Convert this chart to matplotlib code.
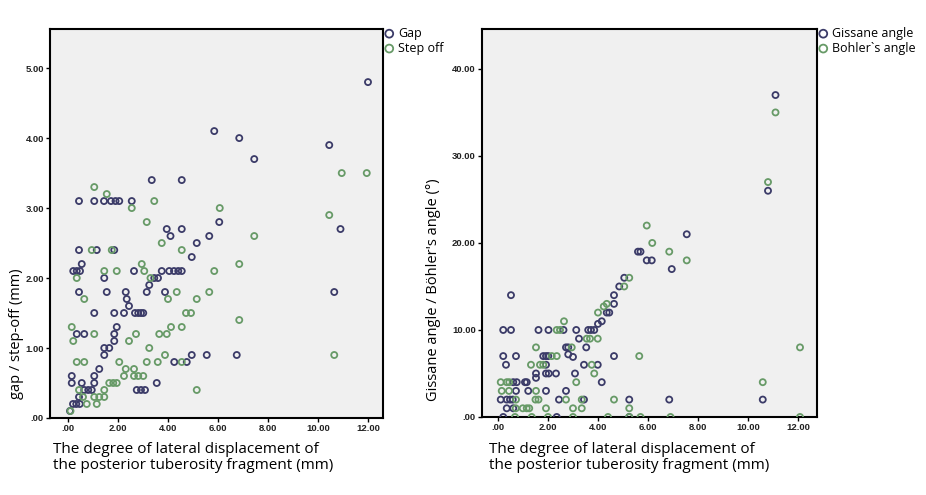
import matplotlib
matplotlib.use('Agg')
import matplotlib.pyplot as plt
import numpy as np

# left panel: gap / step-off vs lateral displacement
gap_x = [12.0, 5.85, 6.85, 7.45, 10.45, 10.9, 10.65, 3.35, 4.55,
         0.44, 1.05, 1.44, 1.72, 1.9, 2.05, 2.55,
         3.95, 4.1, 4.55, 5.15, 5.65, 6.05, 4.95,
         0.44, 1.15, 1.85, 0.55,
         0.21, 0.35, 0.48, 2.64, 3.75, 4.05, 4.24, 4.41, 4.55,
         1.45, 3.45, 3.6, 3.25,
         0.44, 1.55, 2.31, 3.15, 3.88, 2.35, 2.44,
         1.05, 1.85, 2.24, 2.68, 2.81, 2.92, 3.01,
         1.95, 0.35, 0.65, 1.85, 1.85, 1.45, 1.65,
         1.45, 4.95, 5.55, 6.75, 4.25, 4.75, 1.25,
         0.15, 1.05, 0.15, 0.55, 1.05, 3.55,
         0.65, 0.81, 0.95, 2.75, 2.92, 3.08, 0.44,
         0.2, 0.33, 0.47, 0.08]
gap_y = [4.8, 4.1, 4.0, 3.7, 3.9, 2.7, 1.8, 3.4, 3.4,
         3.1, 3.1, 3.1, 3.1, 3.1, 3.1, 3.1,
         2.7, 2.6, 2.7, 2.5, 2.6, 2.8, 2.3,
         2.4, 2.4, 2.4, 2.2,
         2.1, 2.1, 2.1, 2.1, 2.1, 2.1, 2.1, 2.1, 2.1,
         2.0, 2.0, 2.0, 1.9,
         1.8, 1.8, 1.8, 1.8, 1.8, 1.7, 1.6,
         1.5, 1.5, 1.5, 1.5, 1.5, 1.5, 1.5,
         1.3, 1.2, 1.2, 1.2, 1.1, 1.0, 1.0,
         0.9, 0.9, 0.9, 0.9, 0.8, 0.8, 0.7,
         0.6, 0.6, 0.5, 0.5, 0.5, 0.5,
         0.4, 0.4, 0.4, 0.4, 0.4, 0.4, 0.3,
         0.2, 0.2, 0.2, 0.1]

step_x = [11.95, 10.95, 10.45, 10.65, 7.45, 6.07, 6.85, 6.85,
          1.05, 1.55, 2.55, 3.45, 3.15, 3.75, 4.55,
          0.95, 1.75, 2.95, 1.45, 1.95, 3.05, 5.85, 0.35, 3.3,
          4.35, 5.65, 0.65, 4.0, 5.15, 4.72, 4.92,
          0.15, 4.12, 4.55, 1.05, 2.72, 3.65, 3.95, 0.21, 2.44,
          3.25, 3.88, 0.35, 0.65, 2.05, 3.15, 3.59, 4.55,
          2.31, 2.64, 2.24, 2.64, 2.81, 3.01, 1.65, 1.81, 1.95,
          0.44, 1.45, 5.15, 0.6, 1.05, 1.25, 1.45, 0.75, 1.15, 0.1]
step_y = [3.5, 3.5, 2.9, 0.9, 2.6, 3.0, 2.2, 1.4,
          3.3, 3.2, 3.0, 3.1, 2.8, 2.5, 2.4,
          2.4, 2.4, 2.2, 2.1, 2.1, 2.1, 2.1, 2.0, 2.0,
          1.8, 1.8, 1.7, 1.7, 1.7, 1.5, 1.5,
          1.3, 1.3, 1.3, 1.2, 1.2, 1.2, 1.2, 1.1, 1.1,
          1.0, 0.9, 0.8, 0.8, 0.8, 0.8, 0.8, 0.8,
          0.7, 0.7, 0.6, 0.6, 0.6, 0.6, 0.5, 0.5, 0.5,
          0.4, 0.4, 0.4, 0.3, 0.3, 0.3, 0.3, 0.2, 0.2, 0.1]

# right panel: Gissane angle / Bohler's angle vs lateral displacement
gis_x = [11.1, 10.8, 7.55, 5.6, 5.7, 5.95, 6.15, 6.95, 5.05, 4.85, 4.64, 0.52,
         4.64, 4.35, 4.45, 4.15, 4.0,
         0.21, 0.52, 1.62, 2.02, 2.62, 3.13, 3.61, 3.72, 3.85,
         3.24, 2.72, 2.81, 3.53, 2.81, 3.0,
         0.21, 0.72, 1.81, 1.92, 2.01, 4.64,
         0.32, 1.92, 3.44, 3.99,
         1.52, 1.92, 2.03, 2.32, 3.08, 1.52,
         0.61, 0.75, 1.08, 1.15, 4.15,
         0.72, 1.21, 1.92, 2.72,
         0.11, 0.35, 0.48, 0.59, 2.44, 3.44, 5.25, 6.85, 10.59,
         0.35, 0.61, 0.21, 2.35, 5.25]
gis_y = [37, 26, 21, 19, 19, 18, 18, 17, 16, 15, 14, 14,
         13, 12, 12, 11, 10.7,
         10, 10, 10, 10, 10, 10, 10, 10, 10,
         9, 8, 8, 8, 7.2, 6.9,
         7, 7, 7, 7, 7, 7,
         6, 6, 6, 6,
         5, 5, 5, 5, 5, 4.5,
         4, 4, 4, 4, 4,
         3, 3, 3, 3,
         2, 2, 2, 2, 2, 2, 2, 2, 2,
         1, 1, 0, 0, 0]

boh_x = [11.1, 10.8, 5.95, 6.17, 6.85, 7.55, 5.25, 5.05, 4.35, 4.23, 4.0, 2.64,
         2.35, 2.48, 3.55, 3.68, 3.99, 1.52, 2.95, 12.08,
         2.15, 2.35, 5.65, 1.32, 1.68, 1.81, 3.75, 3.85,
         0.11, 0.35, 0.45, 3.13, 10.59, 0.15, 0.44, 1.52,
         0.72, 1.5, 1.62, 2.72, 3.35, 4.64,
         0.71, 0.99, 1.15, 1.25, 1.92, 3.0, 3.35, 5.25,
         0.68, 1.35, 2.0, 3.0, 4.4, 5.25, 5.7, 6.9, 12.08]
boh_y = [35, 27, 22, 20, 19, 18, 16, 15, 13, 12.7, 12, 11,
         10, 10, 9, 9, 9, 8, 8, 8,
         7, 7, 7, 6, 6, 6, 6, 5,
         4, 4, 4, 4, 4, 3, 3, 3,
         2, 2, 2, 2, 2, 2,
         1, 1, 1, 1, 1, 1, 1, 1,
         0, 0, 0, 0, 0, 0, 0, 0, 0]

dark = '#3b3b68'
green = '#679a67'
xlabel = 'The degree of lateral displacement of\nthe posterior tuberosity fragment (mm)'

fig = plt.figure(figsize=(9.26, 4.95), dpi=100)
ax1 = fig.add_axes([0.054, 0.1556, 0.3596, 0.786])
ax2 = fig.add_axes([0.5205, 0.1576, 0.3618, 0.784])


def style(ax, yticks):
    ax.set_facecolor('#f0f0f0')
    for s in ax.spines.values():
        s.set_linewidth(1.5)
        s.set_color('black')
    ax.set_xticks([0, 2, 4, 6, 8, 10, 12])
    ax.set_xticklabels(['.00', '2.00', '4.00', '6.00', '8.00', '10.00', '12.00'])
    ax.set_yticks(yticks)
    ax.set_yticklabels(['.00'] + ['%.2f' % v for v in yticks[1:]])
    ax.tick_params(length=3, width=1, pad=1.5)
    for lbl in ax.get_xticklabels() + ax.get_yticklabels():
        lbl.set_fontfamily('Liberation Sans')
        lbl.set_fontweight('bold')
        lbl.set_fontsize(6.8)
        lbl.set_color('#222222')


def pts(ax, x, y, c, name):
    ax.scatter(x, y, s=19, facecolors='none', edgecolors=c, linewidths=1.3,
               label=name, clip_on=True, zorder=3)


pts(ax1, gap_x, gap_y, dark, 'Gap')
pts(ax1, step_x, step_y, green, 'Step off')
ax1.set_xlim(-0.72, 12.6)
ax1.set_ylim(0, 5.56)
style(ax1, [0, 1, 2, 3, 4, 5])

pts(ax2, gis_x, gis_y, dark, 'Gissane angle')
pts(ax2, boh_x, boh_y, green, 'Bohler`s angle')
ax2.set_xlim(-0.64, 12.76)
ax2.set_ylim(0, 44.6)
style(ax2, [0, 10, 20, 30, 40])

for ax in (ax1, ax2):
    leg = ax.legend(loc='upper left', bbox_to_anchor=(1.0, 1.005), frameon=False,
                    handletextpad=0.2, borderaxespad=0, borderpad=0, labelspacing=0.15,
                    handlelength=1.0, markerscale=1.3,
                    prop={'family': 'Open Sans', 'size': 9})

fig.text(0.018, 0.325, 'gap / step-off (mm)', rotation=90, ha='center', va='center',
         family='Open Sans', fontsize=10.5)
fig.text(0.468, 0.415, "Gissane angle / Böhler's angle (°)", rotation=90, ha='center',
         va='center', family='Open Sans', fontsize=10.5)
fig.text(0.057, 0.045, xlabel, ha='left', va='bottom', family='Open Sans',
         fontsize=11, linespacing=1.05)
fig.text(0.528, 0.045, xlabel, ha='left', va='bottom', family='Open Sans',
         fontsize=11, linespacing=1.05)

fig.savefig('out.png', dpi=100, facecolor='white')
